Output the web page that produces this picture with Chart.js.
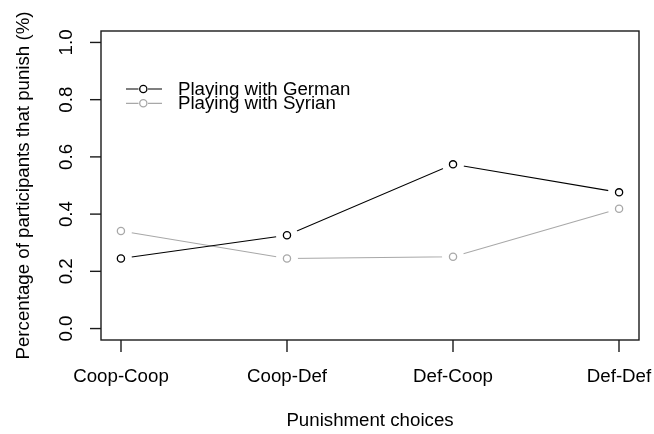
<!DOCTYPE html>
<html>
<head>
<meta charset="utf-8">
<script src="https://cdn.jsdelivr.net/npm/chart.js@4"></script>
<style>
  html, body { margin: 0; padding: 0; background: #fff; }
  canvas { display: block; }
</style>
</head>
<body>
<canvas id="c" width="654" height="434"></canvas>
<script>
const categories = ["Coop-Coop", "Coop-Def", "Def-Coop", "Def-Def"];
const germanValues = [0.245, 0.326, 0.574, 0.476];
const syrianValues = [0.341, 0.245, 0.251, 0.419];
const yTicks = [0.0, 0.2, 0.4, 0.6, 0.8, 1.0];
const seriesNames = ["Playing with German", "Playing with Syrian"];
const xTitle = "Punishment choices";
const yTitle = "Percentage of participants that punish (%)";

const GERMAN = "#000000";
const SYRIAN = "#a8a8a8";
const FONT = "'Liberation Sans', Arial, sans-serif";
const GAPCOL = "#ffffff";

const toPts = vals => vals.map((v, i) => ({ x: i + 1, y: v }));

function series(vals, color, label) {
  return [
    { label: label, data: toPts(vals), borderColor: color, borderWidth: 1.1,
      pointRadius: 0, pointHoverRadius: 0, fill: false, tension: 0, order: 3 },
    { label: label + " gap", data: toPts(vals), showLine: false,
      pointRadius: 11, pointHoverRadius: 11, pointBackgroundColor: GAPCOL,
      pointBorderWidth: 0, pointBorderColor: GAPCOL, order: 2 },
    { label: label + " pts", data: toPts(vals), showLine: false,
      pointRadius: 3.6, pointHoverRadius: 3.6, pointBackgroundColor: "#fff",
      pointBorderColor: color, pointBorderWidth: 1.3, order: 1 }
  ];
}

const rBase = {
  id: "rBase",
  afterDraw(chart) {
    const ctx = chart.ctx;
    const a = chart.chartArea;
    const xs = chart.scales.x, ys = chart.scales.y;
    ctx.save();
    ctx.strokeStyle = "#1a1a1a";
    ctx.lineWidth = 1.4;
    ctx.strokeRect(a.left, a.top, a.right - a.left, a.bottom - a.top);
    ctx.fillStyle = "#000";
    ctx.font = "18.7px " + FONT;
    ctx.textAlign = "center";
    ctx.textBaseline = "middle";
    categories.forEach((c, i) => {
      const px = Math.round(xs.getPixelForValue(i + 1));
      ctx.beginPath();
      ctx.moveTo(px, a.bottom);
      ctx.lineTo(px, a.bottom + 12);
      ctx.stroke();
      ctx.fillText(c, px, 377);
    });
    yTicks.forEach(t => {
      const py = ys.getPixelForValue(t);
      ctx.beginPath();
      ctx.moveTo(a.left, py);
      ctx.lineTo(a.left - 11, py);
      ctx.stroke();
      ctx.save();
      ctx.translate(67, py);
      ctx.rotate(-Math.PI / 2);
      ctx.fillText(t.toFixed(1), 0, 0);
      ctx.restore();
    });
    ctx.fillText(xTitle, (a.left + a.right) / 2, 421);
    ctx.save();
    ctx.translate(23.5, (a.top + a.bottom) / 2);
    ctx.rotate(-Math.PI / 2);
    ctx.fillText(yTitle, 0, 0);
    ctx.restore();
    const rows = [[89, GERMAN], [103.3, SYRIAN]];
    rows.forEach(([y, col], k) => {
      ctx.strokeStyle = col;
      ctx.lineWidth = 1.2;
      ctx.beginPath();
      ctx.moveTo(126, y); ctx.lineTo(138.5, y);
      ctx.moveTo(148, y); ctx.lineTo(162, y);
      ctx.stroke();
      ctx.beginPath();
      ctx.arc(143.3, y, 3.6, 0, Math.PI * 2);
      ctx.fillStyle = "#fff";
      ctx.fill();
      ctx.lineWidth = 1.3;
      ctx.stroke();
      ctx.fillStyle = "#000";
      ctx.textAlign = "left";
      ctx.fillText(seriesNames[k], 178, y + 0.5);
    });
    ctx.restore();
  }
};

new Chart(document.getElementById("c"), {
  type: "line",
  data: {
    datasets: [
      ...series(germanValues, GERMAN, seriesNames[0]),
      ...series(syrianValues, SYRIAN, seriesNames[1])
    ]
  },
  options: {
    responsive: false,
    devicePixelRatio: 1,
    animation: false,
    layout: { padding: { left: 101, top: 31, right: 15, bottom: 94 } },
    plugins: { legend: { display: false }, tooltip: { enabled: false } },
    events: [],
    scales: {
      x: { type: "linear", min: 0.88, max: 4.12, display: false },
      y: { type: "linear", min: -0.04, max: 1.04, display: false }
    }
  },
  plugins: [rBase]
});
</script>
</body>
</html>
